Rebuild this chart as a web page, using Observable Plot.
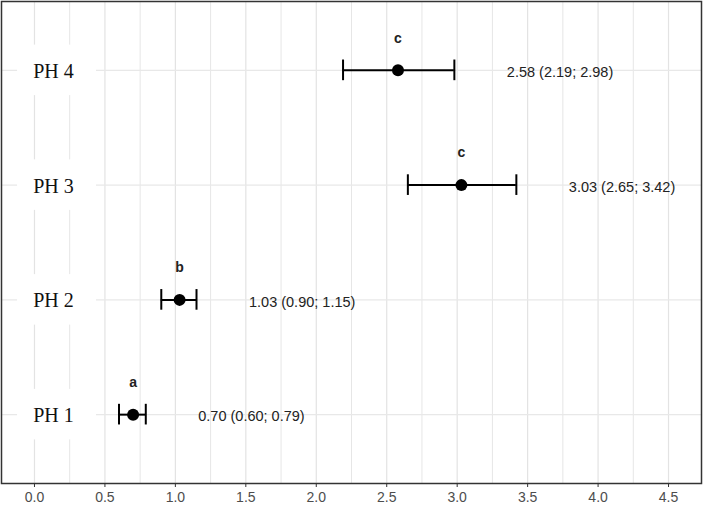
<!DOCTYPE html>
<html>
<head>
<meta charset="utf-8">
<script src="https://cdn.jsdelivr.net/npm/d3@7"></script>
<script src="https://cdn.jsdelivr.net/npm/@observablehq/plot@0.6"></script>
<style>
  html, body { margin: 0; padding: 0; background: #fff; }
  #chart { width: 703px; height: 507px; }
</style>
</head>
<body>
<div id="chart"></div>
<script>
const groups = ["PH 1", "PH 2", "PH 3", "PH 4"];
const means = [0.70, 1.03, 3.03, 2.58];
const lows = [0.60, 0.90, 2.65, 2.19];
const highs = [0.79, 1.15, 3.42, 2.98];
const letters = ["a", "b", "c", "c"];
const xTicks = [0, 0.5, 1, 1.5, 2, 2.5, 3, 3.5, 4, 4.5];
const xMinor = [0.25, 0.75, 1.25, 1.75, 2.25, 2.75, 3.25, 3.75, 4.25];

const f2 = d3.format(".2f");
const rows = groups.map((g, i) => ({
  group: g,
  pos: i + 1,
  mean: means[i],
  low: lows[i],
  high: highs[i],
  letter: letters[i],
  label: `${f2(means[i])} (${f2(lows[i])}; ${f2(highs[i])})`
}));

const chart = Plot.plot({
  width: 703,
  height: 507,
  marginLeft: 1,
  marginRight: 2,
  marginTop: 1,
  marginBottom: 24,
  style: { fontFamily: "'Liberation Sans', Arial, sans-serif", background: "#fff" },
  x: { domain: [-0.234, 4.734], ticks: xTicks, tickFormat: d3.format(".1f"), tickSize: 4, tickPadding: 4, label: null },
  y: { domain: [0.4, 4.6], axis: null },
  marks: [
    Plot.ruleX(xMinor, { stroke: "#e6e6e6", strokeWidth: 1 }),
    Plot.ruleX(xTicks, { stroke: "#e3e3e3", strokeWidth: 1.2 }),
    Plot.ruleY(rows, { y: "pos", stroke: "#e8e8e8", strokeWidth: 1.4 }),
    Plot.rect(rows, { x1: -0.12, x2: 0.44, y1: d => d.pos - 0.22, y2: d => d.pos + 0.22, fill: "#fff" }),
    Plot.text(rows, { x: 0.135, y: "pos", dy: 1, text: "group", fontFamily: "'Liberation Serif', 'Times New Roman', serif", fontSize: 20, fill: "#111" }),
    Plot.ruleY(rows, { y: "pos", x1: "low", x2: "high", stroke: "#000", strokeWidth: 2 }),
    Plot.ruleX(rows, { x: "low", y1: d => d.pos - 0.09, y2: d => d.pos + 0.09, stroke: "#000", strokeWidth: 2 }),
    Plot.ruleX(rows, { x: "high", y1: d => d.pos - 0.09, y2: d => d.pos + 0.09, stroke: "#000", strokeWidth: 2 }),
    Plot.dot(rows, { x: "mean", y: "pos", r: 6, fill: "#000" }),
    Plot.text(rows, { x: "mean", y: d => d.pos + 0.28, text: "letter", fontSize: 14, fontWeight: "bold", fill: "#222" }),
    Plot.text(rows, { x: d => d.high + 0.75, y: "pos", dy: 2, text: "label", fontSize: 14.5, fill: "#222" }),
    Plot.frame({ stroke: "#333", strokeWidth: 1.5 }),
    Plot.axisX({ ticks: xTicks, tickFormat: d3.format(".1f"), tickSize: 4, tickPadding: 5, fontSize: 14, color: "#4d4d4d", stroke: "#333" })
  ]
});
chart.querySelectorAll("g[aria-label='x-axis tick'] path, g[aria-label='x-axis tick'] line").forEach(p => p.setAttribute("stroke", "#333"));
chart.querySelectorAll("g[aria-label='x-axis tick label']").forEach(g => {
  g.setAttribute("font-size", "14");
  g.style.fontSize = "14px";
  g.querySelectorAll("text").forEach(t => { t.style.fontSize = "14px"; t.setAttribute("fill", "#4d4d4d"); });
});
document.getElementById("chart").appendChild(chart);
</script>
</body>
</html>
